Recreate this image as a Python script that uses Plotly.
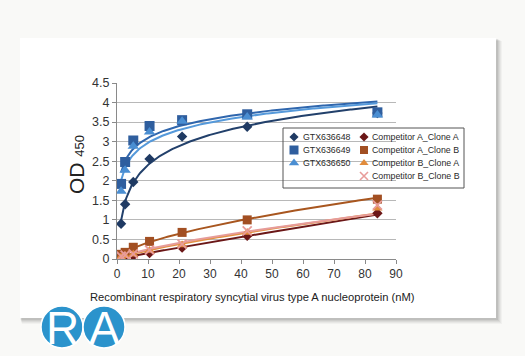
import numpy as np
import plotly.graph_objects as go

# ---------------- data ----------------
conc = [1.3125, 2.625, 5.25, 10.5, 21, 42, 84]
series_names = ["GTX636648", "GTX636649", "GTX636650",
                "Competitor A_Clone A", "Competitor A_Clone B",
                "Competitor B_Clone A", "Competitor B_Clone B"]
gtx636648 = [0.90, 1.40, 1.97, 2.56, 3.13, 3.38, 3.73]
gtx636649 = [1.92, 2.48, 3.03, 3.40, 3.55, 3.70, 3.75]
gtx636650 = [1.73, 2.27, 2.88, 3.25, 3.52, 3.63, 3.68]
compA_cloneA = [0.02, 0.05, 0.08, 0.15, 0.29, 0.59, 1.17]
compA_cloneB = [0.12, 0.17, 0.30, 0.45, 0.68, 1.00, 1.53]
compB_cloneA = [0.05, 0.08, 0.12, 0.22, 0.36, 0.68, 1.30]
compB_cloneB = [0.07, 0.10, 0.13, 0.23, 0.38, 0.72, 1.38]
x_ticks = [0, 10, 20, 30, 40, 50, 60, 70, 80, 90]
y_ticks = [0, 0.5, 1, 1.5, 2, 2.5, 3, 3.5, 4, 4.5]

values = [gtx636648, gtx636649, gtx636650, compA_cloneA, compA_cloneB, compB_cloneA, compB_cloneB]
colors = ["#1f3a63", "#2f5e9e", "#4a8ed2", "#6b1717", "#a24f22", "#e18c3c", "#e89c9a"]
line_colors = ["#22406b", "#2f66ad", "#5599da", "#6b1717", "#a8561f", "#e3913f", "#e69c9a"]
symbols = ["diamond", "square", "triangle-up", "diamond", "square", "triangle-up", "x-thin-open"]
sizes = [8, 10, 10, 8, 9, 9, 9]
fit_kind = ["log", "log", "log", "power", "power", "power", "power"]

W, H = 525, 356
L, R, T, B = 117, 129, 83, 97
PW, PH = W - L - R, H - T - B


def px(x):
    return (x - L) / PW


def py(y):
    return (H - B - y) / PH


fig = go.Figure()

xs = np.asarray(conc, dtype=float)
xfit = np.linspace(xs.min(), xs.max(), 200)

# trend lines (fitted from the data)
for i, vals in enumerate(values):
    ys = np.asarray(vals, dtype=float)
    if fit_kind[i] == "log":
        a, b = np.polyfit(np.log(xs), ys, 1)
        yfit = a * np.log(xfit) + b
    else:
        bexp, lna = np.polyfit(np.log(xs), np.log(ys), 1)
        yfit = np.exp(lna) * xfit ** bexp
    fig.add_trace(go.Scatter(x=xfit, y=yfit, mode="lines",
                             line=dict(color=line_colors[i], width=2),
                             showlegend=False, hoverinfo="skip"))

# markers
for i, vals in enumerate(values):
    sym = symbols[i]
    mk = dict(symbol=sym, size=sizes[i], color=colors[i])
    if sym.startswith("x"):
        mk["line"] = dict(color=colors[i], width=1.8)
    fig.add_trace(go.Scatter(x=conc, y=vals, mode="markers", marker=mk,
                             name=series_names[i], showlegend=False))

# ----- custom legend (drawn on pixel-coordinate overlay axis) -----
leg_cols = [0, 0, 0, 1, 1, 1, 1]
leg_rows = [0, 1, 2, 0, 1, 2, 3]
col_sym_x = [294, 364]
col_txt_x = [301, 370]
row_y = [137, 150, 163, 176]
for i in range(7):
    sym = symbols[i]
    mk = dict(symbol=sym, size=sizes[i] - 1, color=colors[i])
    if sym.startswith("x"):
        mk["line"] = dict(color=colors[i], width=1.6)
    fig.add_trace(go.Scatter(x=[col_sym_x[leg_cols[i]]], y=[row_y[leg_rows[i]]],
                             xaxis="x2", yaxis="y2", mode="markers", marker=mk,
                             showlegend=False, hoverinfo="skip", cliponaxis=False))
    fig.add_annotation(x=px(col_txt_x[leg_cols[i]]), y=py(row_y[leg_rows[i]]),
                       xref="paper", yref="paper", xanchor="left", yanchor="middle",
                       text=series_names[i], showarrow=False,
                       font=dict(family="Liberation Sans, Arial", size=8.8, color="#2a2a2a"))

shapes = []
# page shadow + card
for k, op in enumerate([0.03, 0.04, 0.05, 0.06, 0.07]):
    off = 6 - k
    shapes.append(dict(type="rect", xref="paper", yref="paper", layer="below",
                       x0=px(20 + off * 0.3), x1=px(496 + off), y0=py(318 + off), y1=py(38 + off * 0.5),
                       fillcolor=f"rgba(0,0,0,{op})", line=dict(width=0)))
shapes.append(dict(type="rect", xref="paper", yref="paper", layer="below",
                   x0=px(20), x1=px(496), y0=py(318), y1=py(38),
                   fillcolor="#ffffff", line=dict(width=0)))
# legend box
shapes.append(dict(type="rect", xref="paper", yref="paper", layer="above",
                   x0=px(283), x1=px(464), y0=py(188), y1=py(128),
                   fillcolor="rgba(0,0,0,0)", line=dict(color="#555555", width=1)))
# logo circles
for cx in [62, 104]:
    shapes.append(dict(type="circle", xref="paper", yref="paper", layer="above",
                       x0=px(cx - 21), x1=px(cx + 21), y0=py(348), y1=py(306),
                       fillcolor="#2b93cc", line=dict(color="#ffffff", width=1.5)))

# legend box white background
fig.add_shape(type="rect", xref="paper", yref="paper", layer="below",
              x0=px(283), x1=px(464), y0=py(188), y1=py(128),
              fillcolor="#ffffff", line=dict(width=0))

for s in shapes:
    fig.add_shape(**s)

# logo letters
for cx, letter in [(62, "R"), (104, "A")]:
    fig.add_annotation(x=px(cx), y=py(328), xref="paper", yref="paper",
                       text=letter, showarrow=False, xanchor="center", yanchor="middle",
                       font=dict(family="Liberation Sans, Arial", size=46, color="#ffffff"))

# y title
fig.add_annotation(x=px(76), y=py(165), xref="paper", yref="paper", textangle=-90,
                   text="OD <span style='font-size:13px'>450</span>", showarrow=False,
                   xanchor="center", yanchor="middle",
                   font=dict(family="Liberation Sans, Arial", size=21, color="#222222"))
# x title
fig.add_annotation(x=px(252), y=py(297), xref="paper", yref="paper",
                   text="Recombinant respiratory syncytial virus type A nucleoprotein (nM)",
                   showarrow=False, xanchor="center", yanchor="middle",
                   font=dict(family="Liberation Sans, Arial", size=11.2, color="#222222"))

fig.update_layout(
    width=W, height=H,
    margin=dict(l=L, r=R, t=T, b=B),
    paper_bgcolor="#f9f9f7",
    plot_bgcolor="rgba(0,0,0,0)",
    showlegend=False,
    font=dict(family="Liberation Sans, Arial", color="#333333"),
    xaxis=dict(range=[0, 90], tickvals=x_ticks, ticktext=[str(v) for v in x_ticks],
               showgrid=False, zeroline=False, showline=True, linecolor="#8a8a8a",
               ticks="outside", ticklen=4, tickcolor="#8a8a8a",
               tickfont=dict(size=12, color="#333333")),
    yaxis=dict(range=[0, 4.5], tickvals=y_ticks, ticktext=[f"{v:g}" for v in y_ticks],
               showgrid=True, gridcolor="#b8b8b8", gridwidth=1, zeroline=False,
               showline=True, linecolor="#8a8a8a", ticks="outside", ticklen=4,
               tickcolor="#8a8a8a", tickfont=dict(size=12.5, color="#333333")),
    xaxis2=dict(range=[L, L + PW], overlaying="x", visible=False, fixedrange=True),
    yaxis2=dict(range=[T + PH, T], overlaying="y", visible=False, fixedrange=True),
)

fig.write_html("out.html", config={"displayModeBar": False},
               post_script="document.body.style.margin='0';document.body.style.background='#f9f9f7';")
